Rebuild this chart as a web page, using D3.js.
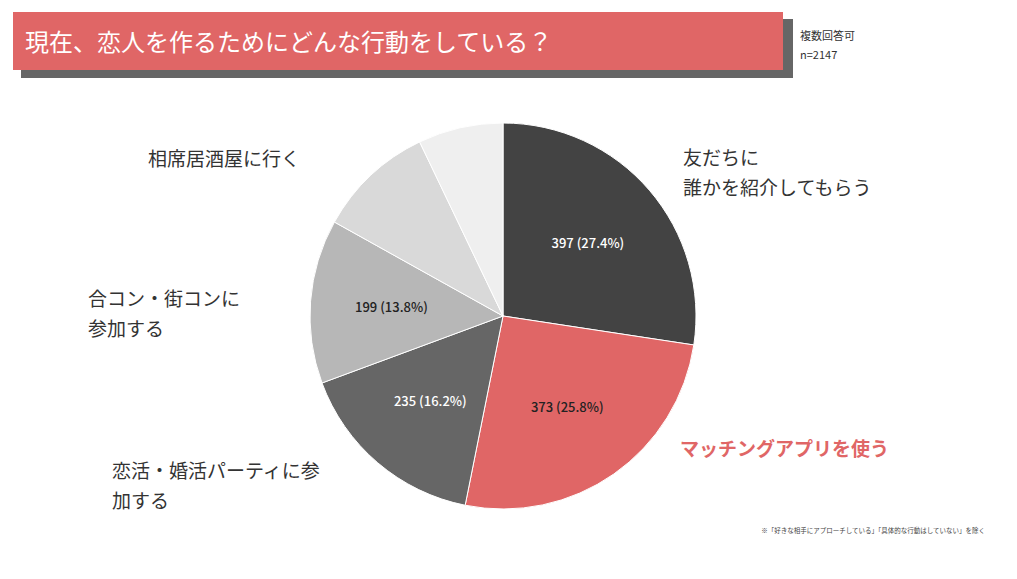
<!DOCTYPE html>
<html><head><meta charset="utf-8">
<script src="https://cdn.jsdelivr.net/npm/d3@7"></script>
<style>body{margin:0;background:#fff}text{font-family:"Noto Sans CJK JP","Noto Sans",sans-serif}</style>
</head><body><svg id="c" width="1017" height="579"></svg>
<script>
const categories=["友だちに\n誰かを紹介してもらう","マッチングアプリを使う","恋活・婚活パーティに参\n加する","合コン・街コンに\n参加する","相席居酒屋に行く","その他"];
const values=[397,373,235,199,142,103];
const valueLabels=["397 (27.4%)","373 (25.8%)","235 (16.2%)","199 (13.8%)","",""];
const colors=["#434343","#e06666","#666666","#b7b7b7","#d9d9d9","#efefef"];
const labelColors=["#fff","#222","#fff","#222","#222","#222"];
const svg=d3.select("#c");
svg.append("rect").attr("x",21).attr("y",19).attr("width",772).attr("height",59).attr("fill","#666");
svg.append("rect").attr("x",13).attr("y",12).attr("width",770).attr("height",58).attr("fill","#e06666");
svg.append("text").attr("x",25).attr("y",51).attr("fill","#fff").attr("font-size",24).text("現在、恋人を作るためにどんな行動をしている？");
svg.append("text").attr("x",800).attr("y",40).attr("font-size",11).attr("fill","#333").text("複数回答可");
svg.append("text").attr("x",800).attr("y",59).attr("font-size",11).attr("fill","#333").text("n=2147");
const cx=503,cy=316,r=193;
const pie=d3.pie().sort(null).value(d=>d)(values);
const arc=d3.arc().innerRadius(0).outerRadius(r);
const g=svg.append("g").attr("transform",`translate(${cx},${cy})`);
g.selectAll("path").data(pie).join("path").attr("d",arc).attr("fill",(d,i)=>colors[i]).attr("stroke","#fff").attr("stroke-width",1);
const la=d3.arc().innerRadius(r*0.58).outerRadius(r*0.58);
g.selectAll("text.v").data(pie).join("text").attr("class","v")
 .attr("transform",d=>`translate(${la.centroid(d)})`).attr("text-anchor","middle").attr("dy","0.35em")
 .attr("font-size",13).attr("font-weight",500).attr("fill",(d,i)=>labelColors[i]).text((d,i)=>valueLabels[i]);
const outPos=[[683,165,"start","#333"],[680,456,"start","#e06666"],[112,478,"start","#333"],[88,306,"start","#333"],[148,166,"start","#333"]];
outPos.forEach((p,i)=>{
 const t=svg.append("text").attr("x",p[0]).attr("y",p[1]).attr("text-anchor",p[2]).attr("fill",p[3]).attr("font-size",19).attr("font-weight",i==1?700:400);
 categories[i].split("\n").forEach((s,j)=>t.append("tspan").attr("x",p[0]).attr("dy",j?30:0).text(s));
});
svg.append("text").attr("x",985).attr("y",533).attr("text-anchor","end").attr("font-size",6.5).attr("fill","#444").text("※「好きな相手にアプローチしている」「具体的な行動はしていない」を除く");
</script></body></html>
